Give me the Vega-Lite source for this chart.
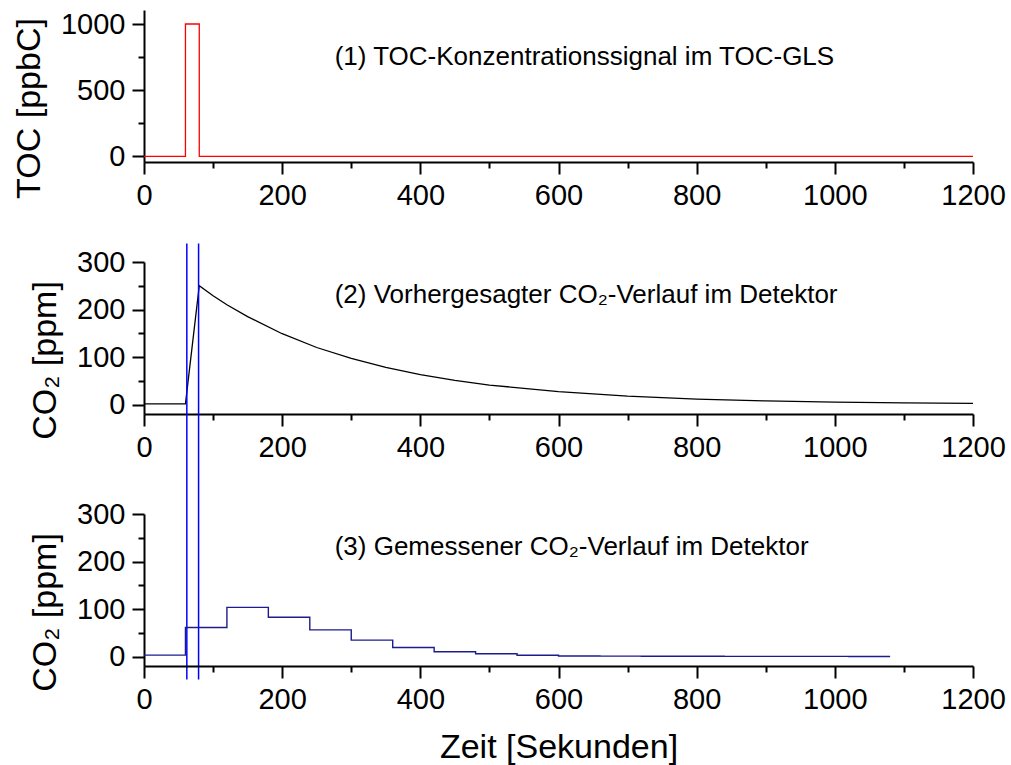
{
  "$schema": "https://vega.github.io/schema/vega-lite/v6.json",
  "background": "white",
  "padding": {"left": 12, "top": 10, "right": 10, "bottom": 4},
  "spacing": 100,
  "bounds": "flush",
  "datasets": {
    "toc": [
      {"t": 0, "v": 0},
      {"t": 60, "v": 1000},
      {"t": 80, "v": 0},
      {"t": 1200, "v": 0}
    ],
    "predicted": [
      {"t": 0, "v": 1.5},
      {"t": 60, "v": 1.5},
      {"t": 80, "v": 250},
      {"t": 100, "v": 229},
      {"t": 120, "v": 210},
      {"t": 150, "v": 185},
      {"t": 200, "v": 149},
      {"t": 250, "v": 120},
      {"t": 300, "v": 97},
      {"t": 350, "v": 78},
      {"t": 400, "v": 63},
      {"t": 450, "v": 51},
      {"t": 500, "v": 41},
      {"t": 600, "v": 27},
      {"t": 700, "v": 17.5},
      {"t": 800, "v": 11.5},
      {"t": 900, "v": 7.5},
      {"t": 1000, "v": 5},
      {"t": 1100, "v": 3.3},
      {"t": 1200, "v": 2.2}
    ],
    "measured": [
      {"t": 0, "v": 3},
      {"t": 60, "v": 61},
      {"t": 120, "v": 103.5},
      {"t": 180, "v": 82.5},
      {"t": 240, "v": 56},
      {"t": 300, "v": 34.5},
      {"t": 360, "v": 19},
      {"t": 420, "v": 10},
      {"t": 480, "v": 5.7},
      {"t": 540, "v": 2.5},
      {"t": 600, "v": 1.2},
      {"t": 660, "v": 0.8},
      {"t": 720, "v": 0.5},
      {"t": 780, "v": 0.4},
      {"t": 840, "v": 0.3},
      {"t": 900, "v": 0.2},
      {"t": 960, "v": 0.2},
      {"t": 1020, "v": 0.1},
      {"t": 1080, "v": 0.1}
    ],
    "window": [{"t": 62}, {"t": 79}],
    "note1": [{"t": 276, "v": 689, "label": "(1) TOC-Konzentrationssignal im TOC-GLS"}],
    "note2": [{"t": 276, "v": 213, "label": "(2) Vorhergesagter CO₂-Verlauf im Detektor"}],
    "note3": [{"t": 276, "v": 213, "label": "(3) Gemessener CO₂-Verlauf im Detektor"}]
  },
  "config": {
    "font": "Liberation Sans",
    "view": {"stroke": null},
    "axis": {
      "grid": false,
      "domainColor": "black",
      "domainWidth": 2,
      "tickColor": "black",
      "tickWidth": 2,
      "tickSize": 12,
      "labelColor": "black",
      "labelFont": "Liberation Sans",
      "labelFontSize": 29,
      "labelPadding": 7,
      "labelFlush": false,
      "labelOverlap": false,
      "titleColor": "black",
      "titleFont": "Liberation Sans",
      "titleFontSize": 34,
      "titleFontWeight": "normal"
    }
  },
  "vconcat": [
    {
      "width": 829,
      "height": 152,
      "resolve": {"axis": {"x": "independent", "y": "independent"}},
      "layer": [
        {
          "data": {"name": "toc"},
          "mark": {"type": "line", "interpolate": "step-after", "color": "#ff0000", "strokeWidth": 1.3},
          "encoding": {
            "x": {"field": "t", "type": "quantitative", "scale": {"domain": [0, 1200], "nice": false, "zero": false},
                  "axis": {"orient": "bottom", "values": [0, 200, 400, 600, 800, 1000, 1200], "format": "d", "title": null}},
            "y": {"field": "v", "type": "quantitative", "scale": {"domain": [-43, 1106], "nice": false, "zero": false},
                  "axis": {"orient": "left", "values": [0, 500, 1000], "format": "d", "title": "TOC [ppbC]", "titlePadding": 14, "titleY": 98}}
          }
        },
        {
          "data": {"name": "note1"},
          "mark": {"type": "text", "align": "left", "baseline": "alphabetic", "fontSize": 26, "color": "black"},
          "encoding": {
            "x": {"field": "t", "type": "quantitative", "scale": {"domain": [0, 1200], "nice": false, "zero": false},
                  "axis": {"orient": "bottom", "values": [100, 300, 500, 700, 900, 1100], "tickSize": 6, "labels": false, "domain": false, "title": null}},
            "y": {"field": "v", "type": "quantitative", "scale": {"domain": [-43, 1106], "nice": false, "zero": false},
                  "axis": {"orient": "left", "values": [250, 750], "tickSize": 6, "labels": false, "domain": false, "title": null}},
            "text": {"field": "label"}
          }
        }
      ]
    },
    {
      "width": 829,
      "height": 152,
      "resolve": {"axis": {"x": "independent", "y": "independent"}},
      "layer": [
        {
          "data": {"name": "predicted"},
          "mark": {"type": "line", "color": "black", "strokeWidth": 1.3},
          "encoding": {
            "x": {"field": "t", "type": "quantitative", "scale": {"domain": [0, 1200], "nice": false, "zero": false},
                  "axis": {"orient": "bottom", "values": [0, 200, 400, 600, 800, 1000, 1200], "format": "d", "title": null}},
            "y": {"field": "v", "type": "quantitative", "scale": {"domain": [-20, 300], "nice": false, "zero": false},
                  "axis": {"orient": "left", "values": [0, 100, 200, 300], "format": "d", "title": "CO₂ [ppm]", "titlePadding": 14, "titleY": 98}}
          }
        },
        {
          "data": {"name": "note2"},
          "mark": {"type": "text", "align": "left", "baseline": "alphabetic", "fontSize": 26, "color": "black"},
          "encoding": {
            "x": {"field": "t", "type": "quantitative", "scale": {"domain": [0, 1200], "nice": false, "zero": false},
                  "axis": {"orient": "bottom", "values": [100, 300, 500, 700, 900, 1100], "tickSize": 6, "labels": false, "domain": false, "title": null}},
            "y": {"field": "v", "type": "quantitative", "scale": {"domain": [-20, 300], "nice": false, "zero": false},
                  "axis": {"orient": "left", "values": [50, 150, 250], "tickSize": 6, "labels": false, "domain": false, "title": null}},
            "text": {"field": "label"}
          }
        },
        {
          "data": {"name": "window"},
          "mark": {"type": "rule", "color": "#0000ff", "strokeWidth": 1.5},
          "encoding": {
            "x": {"field": "t", "type": "quantitative", "scale": {"domain": [0, 1200], "nice": false, "zero": false}, "axis": null},
            "y": {"datum": 339, "type": "quantitative", "scale": {"domain": [-20, 300], "nice": false, "zero": false}, "axis": null},
            "y2": {"datum": -579}
          }
        }
      ]
    },
    {
      "width": 829,
      "height": 152,
      "resolve": {"axis": {"x": "independent", "y": "independent"}},
      "layer": [
        {
          "data": {"name": "measured"},
          "mark": {"type": "line", "interpolate": "step-after", "color": "#1c1c8c", "strokeWidth": 1.4},
          "encoding": {
            "x": {"field": "t", "type": "quantitative", "scale": {"domain": [0, 1200], "nice": false, "zero": false},
                  "axis": {"orient": "bottom", "values": [0, 200, 400, 600, 800, 1000, 1200], "format": "d", "title": "Zeit [Sekunden]", "titlePadding": 16}},
            "y": {"field": "v", "type": "quantitative", "scale": {"domain": [-20, 300], "nice": false, "zero": false},
                  "axis": {"orient": "left", "values": [0, 100, 200, 300], "format": "d", "title": "CO₂ [ppm]", "titlePadding": 14, "titleY": 98}}
          }
        },
        {
          "data": {"name": "note3"},
          "mark": {"type": "text", "align": "left", "baseline": "alphabetic", "fontSize": 26, "color": "black"},
          "encoding": {
            "x": {"field": "t", "type": "quantitative", "scale": {"domain": [0, 1200], "nice": false, "zero": false},
                  "axis": {"orient": "bottom", "values": [100, 300, 500, 700, 900, 1100], "tickSize": 6, "labels": false, "domain": false, "title": null}},
            "y": {"field": "v", "type": "quantitative", "scale": {"domain": [-20, 300], "nice": false, "zero": false},
                  "axis": {"orient": "left", "values": [50, 150, 250], "tickSize": 6, "labels": false, "domain": false, "title": null}},
            "text": {"field": "label"}
          }
        }
      ]
    }
  ]
}
